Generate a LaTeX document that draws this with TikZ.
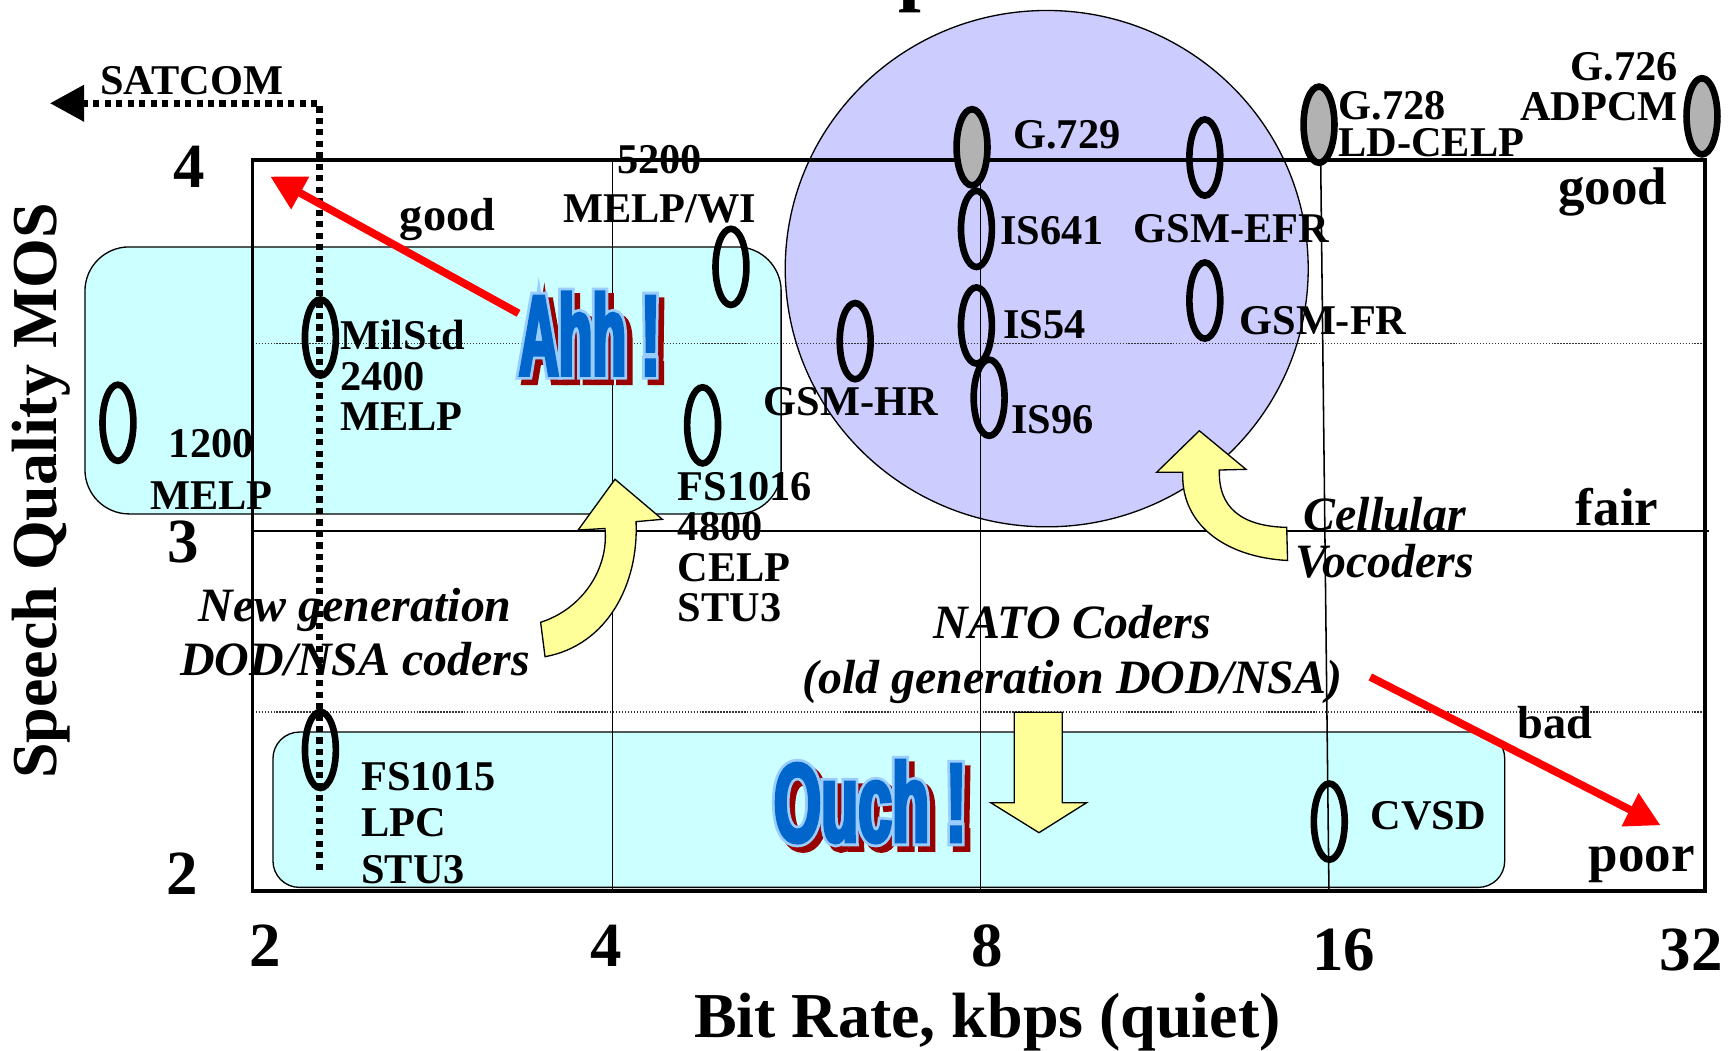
\documentclass[tikz,border=0pt]{standalone}
\usepackage{fontspec}
\setmainfont{Liberation Serif}
\newfontfamily\ahhfont[FakeStretch=0.48]{Liberation Sans}
\newfontfamily\ouchfont[FakeStretch=0.54]{Liberation Sans}
\usetikzlibrary{arrows.meta,calc,shapes.geometric}

\definecolor{zonecyan}{HTML}{CCFFFF}
\definecolor{cellviolet}{HTML}{CCCCFF}
\definecolor{pointer}{HTML}{FFFF99}
\definecolor{stdgrey}{HTML}{B2B2B2}
\definecolor{wordblue}{HTML}{0066CC}
\definecolor{wordrim}{HTML}{99CCFF}
\definecolor{wordshade}{HTML}{990000}

% glyphs filled and stroked with a given stroke colour and width (bp)
\newcommand{\strokedtext}[3]{%
  \special{pdf:literal direct #1 RG #2 w 2 Tr}#3\special{pdf:literal direct 0 Tr 0.4 w}}

% outlined, shadowed poster word: name, position, font, size, text
\newcommand{\posterword}[5]{%
  \node[poster={#3}{#4}, text=wordshade] at ($#2+(5,5)$)
    {\strokedtext{0.6 0 0}{4}{#5}};
  \node[poster={#3}{#4}, text=wordrim] at #2
    {\strokedtext{0.6 0.8 1}{4}{#5}};
  \node[poster={#3}{#4}, text=wordblue] (#1) at #2
    {\strokedtext{0 0.4 0.8}{1.5}{#5}};
}

\begin{document}
\begin{tikzpicture}[x=0.5pt,y=-0.5pt,
  zone/.style={draw=black, line width=0.6pt, fill=zonecyan},
  cellzone/.style={draw=black, line width=0.6pt, fill=cellviolet},
  grid/.style={draw=black, line width=0.7pt},
  hint/.style={draw=black!80, line width=0.6pt, dash pattern=on 0.6pt off 0.75pt},
  frame/.style={draw=black, line width=1.5pt},
  satline/.style={draw=black, line width=3pt, dash pattern=on 2.8pt off 2.4pt,
    -{Triangle[length=15.5pt,width=16pt]}},
  alarm/.style={draw=red, line width=3.5pt, -{Triangle[length=15.5pt,width=16pt,fill=red]}},
  pointerarrow/.style={draw=black, line width=0.6pt, fill=pointer},
  codec/.style={ellipse, draw=black, line width=3pt, inner sep=0pt,
    minimum width=14pt, minimum height=34.5pt},
  refcodec/.style={codec, fill=stdgrey},
  lbl/.style={inner sep=0pt, anchor=base west, font=\bfseries\fontsize{19.2}{#1}\selectfont},
  lbl/.default=18.3,
  quality/.style={inner sep=0pt, anchor=base west, font=\bfseries\fontsize{#1}{#1}\selectfont},
  tick/.style={inner sep=0pt, anchor=base, font=\bfseries\fontsize{28.5}{28.5}\selectfont},
  axis/.style={inner sep=0pt, anchor=base, font=\bfseries\fontsize{29}{29}\selectfont},
  ital/.style={inner sep=0pt, anchor=base, align=center,
    font=\bfseries\itshape\fontsize{21.7}{#1}\selectfont},
  poster/.style 2 args={inner sep=0pt, anchor=base west,
    font=#1\bfseries\fontsize{#2}{#2}\selectfont},
]
\useasboundingbox (0,0) rectangle (1568,952);

% tail of the heading glyph above the chart
\begin{scope}
  \clip (0,0) rectangle (1568,952);
  \node[inner sep=0pt, anchor=base west, font=\bfseries\fontsize{37}{37}\selectfont]
    (headtail) at (814,-4) {p};
\end{scope}

% highlighted regions
\draw[zone, rounded corners=20pt] (77,223.8) rectangle (708,465.8);
\draw[zone, rounded corners=12pt] (247.4,663.5) rectangle (1363.8,804.3);
\draw[cellzone] (948.7,243.5) ellipse [x radius=118.5pt, y radius=117pt];

% grid
\draw[hint] (229,311.2) -- (1545,311.2);
\draw[hint] (229,645.3) -- (1545,645.3);
\draw[grid] (229,481.5) -- (1549,481.5);
\draw[grid] (555.2,145) -- (555.2,807.6);
\draw[grid] (888.6,145) -- (888.6,807.6);
\draw[grid] (1197,145) -- (1204.5,807.6);
\draw[frame] (229,145) rectangle (1545.3,807.6);

% SATCOM direction
\coordinate (satlow) at (289.7,788.4);
\coordinate (satbend) at (289.7,93.6);
\coordinate (sattip) at (45.3,93.6);
\draw[satline] (satlow) -- (satbend) -- (sattip);

% yellow pointers
\path[pointerarrow] (490,564) .. controls (528,552) and (552,515) .. (548.3,479)
  -- (524,480.4) -- (557.4,434.4) -- (600.3,470.7) -- (576.5,472.8)
  .. controls (579,530) and (550,585) .. (494,595.2) -- cycle;
\path[pointerarrow] (1166.2,478) .. controls (1125,477) and (1104,460) .. (1105.2,426)
  -- (1129.3,425.4) -- (1087,390.4) -- (1048.4,428) -- (1072,428)
  .. controls (1070,475) and (1110,505) .. (1167,508) -- cycle;
\path[pointerarrow] (919.3,645.6) -- (962.8,645.6) -- (962.8,727.5) -- (984.9,727.5)
  -- (941.7,754.7) -- (897.9,727.5) -- (919.3,727.5) -- cycle;

% red trend arrows
\coordinate (upfrom) at (470,284);
\coordinate (upto) at (245,160);
\coordinate (downfrom) at (1242,613.6);
\coordinate (downto) at (1505,748);
\draw[alarm] (upfrom) -- (upto);
\draw[alarm] (downfrom) -- (downto);

% poster words
\posterword{ahh}{(470,340)}{\ahhfont}{52}{Ahh !}
\posterword{ouch}{(701,763)}{\ouchfont}{51}{Ouch !}

% coder markers
\node[codec] (m1200) at (106.9,383.2) {};
\node[codec] (m2400) at (290.4,305.9) {};
\node[codec] (m5200) at (662.5,241.9) {};
\node[codec] (m4800) at (636.8,385.5) {};
\node[codec] (mhr) at (775.1,309.2) {};
\node[refcodec] (m729) at (881,133.5) {};
\node[codec] (m641) at (885,207.5) {};
\node[codec] (m54) at (885,295) {};
\node[codec] (m96) at (896.5,360.5) {};
\node[codec] (mefr) at (1092,142.8) {};
\node[codec] (mfr) at (1092,272.4) {};
\node[refcodec] (m728) at (1195.5,113) {};
\node[refcodec] (m726) at (1542.6,105.4) {};
\node[codec] (m1015) at (290.4,679.7) {};
\node[codec] (mcvsd) at (1204.8,744.7) {};

% coder labels (multi-line nodes sit on their last baseline)
\node[lbl] (g729) at (918,134.5) {G.729};
\node[lbl] (is641) at (906,222) {IS641};
\node[lbl] (is54) at (909,306.5) {IS54};
\node[lbl] (is96) at (916,392.7) {IS96};
\node[lbl] (gsmefr) at (1027,220) {GSM-EFR};
\node[lbl] (gsmfr) at (1123,303) {GSM-FR};
\node[lbl] (gsmhr) at (692,377) {GSM-HR};
\node[lbl=17, align=left] (g728) at (1212.7,142) {G.728\\LD-CELP};
\node[lbl=17.9, anchor=base east, align=right] (g726) at (1521,109.2) {G.726\\ADPCM};
\node[lbl=21.9, anchor=base, align=center] (melpwi) at (598,201.3) {5200\\MELP/WI};
\node[lbl=18.3, align=left] (milstd) at (307.8,390.2) {MilStd\\2400\\MELP};
\node[lbl=23.2, anchor=base, align=center] (melp1200) at (191.5,461.4) {1200\\MELP};
\node[lbl=18.25, align=left] (fs1016) at (614,563.2) {FS1016\\4800\\CELP\\STU3};
\node[lbl=21.1, align=left] (fs1015) at (327,800.7) {FS1015\\LPC\\STU3};
\node[lbl] (cvsd) at (1241.7,751.6) {CVSD};
\node[lbl] (satcom) at (90.5,85.8) {SATCOM};

% quality words
\node[quality=21] (goodleft) at (362,209) {good};
\node[quality=24] (goodright) at (1412,185.7) {good};
\node[quality=24] (fair) at (1428,476) {fair};
\node[quality=21] (bad) at (1375,669) {bad};
\node[quality=24] (poor) at (1439.7,790) {poor};

% group captions
\node[ital=24.5] (newgen) at (322,612.2) {New generation\\DOD/NSA coders};
\node[ital=25] (nato) at (972,629) {NATO Coders\\(old generation DOD/NSA)};
\node[ital=21.4] (cellular) at (1255,523.4) {Cellular\\Vocoders};

% axes
\node[tick] (y4) at (171.5,170) {4};
\node[tick] (y3) at (166,509.6) {3};
\node[tick] (y2) at (165,810.7) {2};
\node[tick] (x2) at (240,875.7) {2};
\node[tick] (x4) at (549,875.7) {4};
\node[tick] (x8) at (895,876) {8};
\node[tick] (x16) at (1218,880) {16};
\node[tick] (x32) at (1533,880) {32};
\node[axis] (xtitle) at (895,940) {Bit Rate, kbps (quiet)};
\node[axis, rotate=90] (ytitle) at (51,445) {Speech Quality MOS};
\end{tikzpicture}
\end{document}
